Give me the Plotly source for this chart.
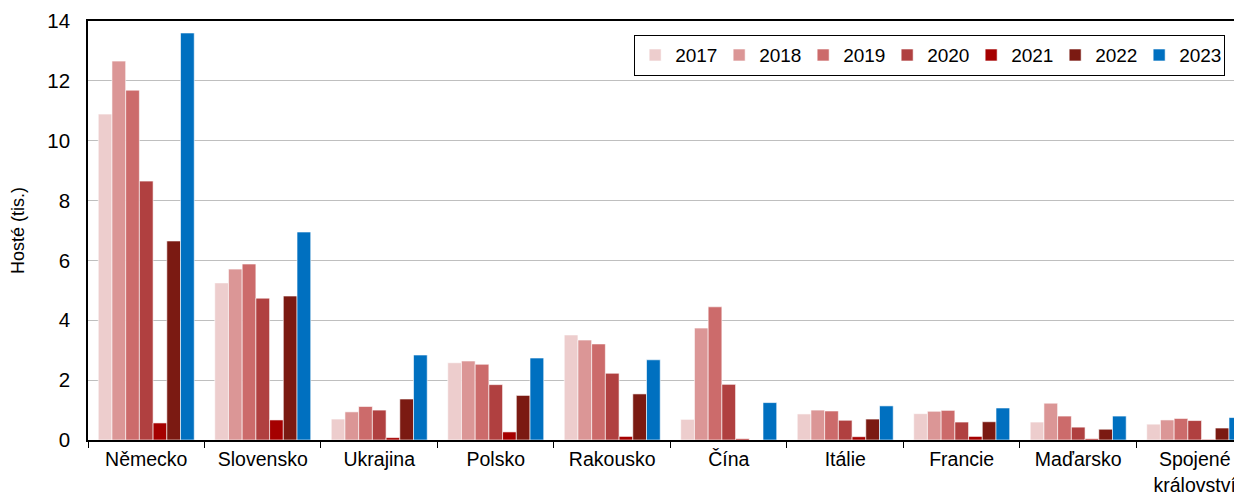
import plotly.graph_objects as go

countries = ["Německo", "Slovensko", "Ukrajina", "Polsko", "Rakousko", "Čína",
             "Itálie", "Francie", "Maďarsko", "Spojené<br>království"]
years = ["2017", "2018", "2019", "2020", "2021", "2022", "2023"]

v2017 = [10.89, 5.25, 0.70, 2.58, 3.51, 0.69, 0.87, 0.88, 0.60, 0.53]
v2018 = [12.66, 5.71, 0.94, 2.64, 3.34, 3.74, 1.00, 0.96, 1.23, 0.67]
v2019 = [11.69, 5.88, 1.12, 2.53, 3.21, 4.45, 0.97, 0.99, 0.80, 0.72]
v2020 = [8.65, 4.74, 1.00, 1.85, 2.23, 1.86, 0.66, 0.60, 0.43, 0.65]
v2021 = [0.57, 0.67, 0.08, 0.27, 0.12, 0.04, 0.11, 0.12, 0.04, 0.02]
v2022 = [6.65, 4.81, 1.37, 1.49, 1.54, 0.00, 0.70, 0.61, 0.36, 0.40]
v2023 = [13.60, 6.95, 2.84, 2.74, 2.68, 1.25, 1.14, 1.07, 0.80, 0.75]

series = [v2017, v2018, v2019, v2020, v2021, v2022, v2023]
colors = ["#EDCDCD", "#DB9696", "#CC6B6B", "#B04040", "#A50000", "#7B1A12", "#0070C0"]

fig = go.Figure()
for y, vals, c in zip(years, series, colors):
    fig.add_trace(go.Bar(
        x=countries, y=vals, name=y,
        marker=dict(color=c, line=dict(color="white", width=0.6)),
    ))

font = "Liberation Sans, Arial, sans-serif"
fig.update_layout(
    width=1234, height=485,
    margin=dict(l=80, r=0, t=13, b=53, autoexpand=False),
    paper_bgcolor="white", plot_bgcolor="white",
    barmode="group", bargap=0.176, bargroupgap=0,
    font=dict(family=font, size=19, color="black"),
    legend=dict(
        orientation="h", x=0.473, y=0.967, xanchor="left", yanchor="top",
        bordercolor="black", borderwidth=1.3, bgcolor="white",
        font=dict(size=19), itemwidth=30, traceorder="normal",
        entrywidth=39, entrywidthmode="pixels",
    ),
    xaxis=dict(
        type="category", range=[-0.5, 9.406],
        showline=True, linecolor="black", linewidth=1.5, mirror=True,
        ticks="outside", tickson="boundaries", ticklen=6, tickcolor="black",
        showgrid=False, tickfont=dict(size=19.5), ticklabelstandoff=1,
    ),
    yaxis=dict(
        range=[0, 14], dtick=2, showline=True, linecolor="black", linewidth=1.5,
        showgrid=True, gridcolor="#BFBFBF", gridwidth=1,
        ticks="", ticklabelstandoff=12, tickfont=dict(size=20.5),
        zeroline=False,
        title=dict(text="Hosté (tis.)", font=dict(size=18), standoff=18),
    ),
)

fig.write_html("out.html")
